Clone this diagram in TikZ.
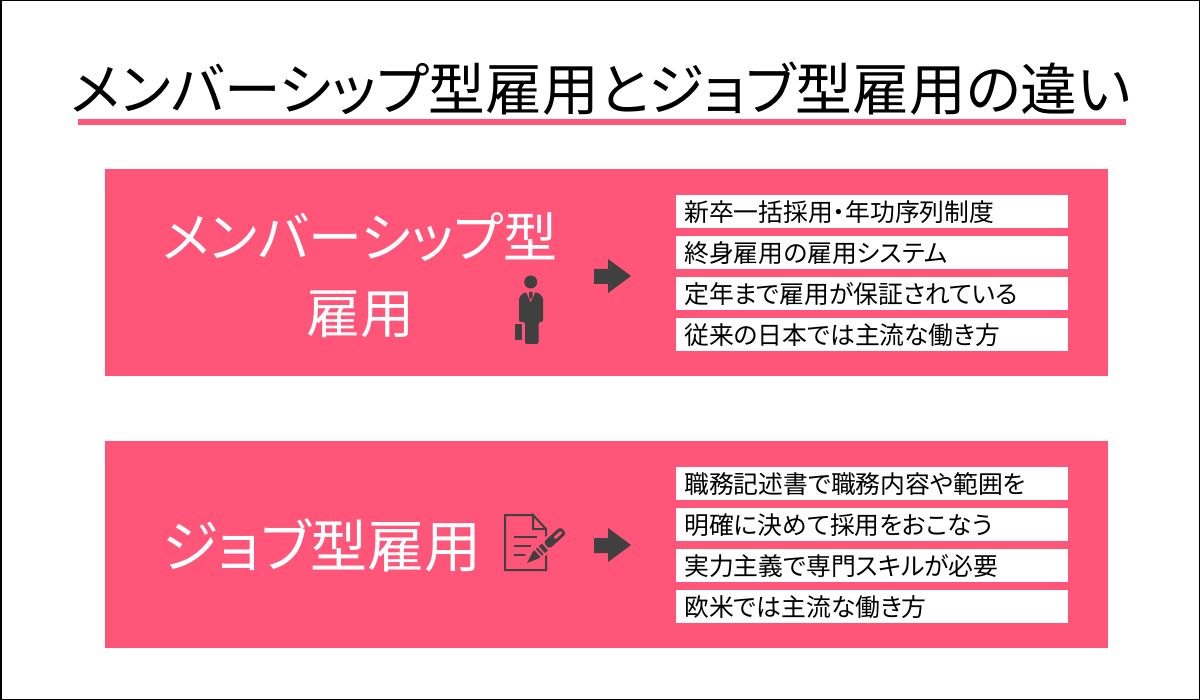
\documentclass[tikz,border=0pt]{standalone}
\usepackage{fontspec}
\setmainfont[RawFeature=+palt]{Noto Sans CJK JP}
\usetikzlibrary{positioning}
\definecolor{rosepink}{HTML}{FF5578}
\definecolor{icongray}{HTML}{404040}
\tikzstyle{band} = [fill=rosepink,draw=none,anchor=north west,minimum width=1003pt,minimum height=207pt,inner sep=0pt]
\tikzstyle{rowbox} = [fill=white,anchor=north west,minimum height=33pt,text width=376pt,inner xsep=8pt,inner ysep=0pt,align=left,font=\fontsize{24.8}{24.8}\selectfont]
\tikzstyle{heading} = [text=white,inner sep=0pt,font=\fontsize{54}{54}\selectfont]
\tikzstyle{arrowblock} = [fill=icongray]

\begin{document}
\begin{tikzpicture}[x=1pt,y=-1pt]
\useasboundingbox (0,0) rectangle (1200,700);
\fill[white] (0,0) rectangle (1200,700);
\draw[line width=1.5pt] (0.75,0.75) rectangle (1199.25,699.25);

\node[inner sep=0pt,font=\fontsize{56.7}{56.7}\selectfont] (title) at (601,89) {メンバーシップ型雇用とジョブ型雇用の違い};
\fill[rosepink] (78,119) rectangle (1126,125);

\node[band] (memberband) at (105,169) {};
\node[band] (jobband) at (105,441) {};

\node[heading] (memberhead) at (360,237) {メンバーシップ型};
\node[heading] (memberhead2) at (360,314) {雇用};
\node[heading,font=\fontsize{57}{57}\selectfont] (jobhead) at (322,545) {ジョブ型雇用};

\node[rowbox] (m1) at (676,195) {新卒一括採用・年功序列制度};
\node[rowbox] (m2) at (676,236) {終身雇用の雇用システム};
\node[rowbox] (m3) at (676,277) {定年まで雇用が保証されている};
\node[rowbox] (m4) at (676,318) {従来の日本では主流な働き方};

\node[rowbox] (j1) at (676,467) {職務記述書で職務内容や範囲を};
\node[rowbox] (j2) at (676,508) {明確に決めて採用をおこなう};
\node[rowbox] (j3) at (676,549) {実力主義で専門スキルが必要};
\node[rowbox] (j4) at (676,590) {欧米では主流な働き方};

\fill[arrowblock] (594,269) -- (608,269) -- (608,259) -- (631,276) -- (608,293) -- (608,284) -- (594,284) -- cycle;
\fill[arrowblock] (594,538) -- (608,538) -- (608,528) -- (631,545) -- (608,562) -- (608,553) -- (594,553) -- cycle;

% person
\fill[icongray] (530.7,282) circle (6.5pt);
\fill[icongray,rounded corners=2pt] (519,322) -- (519,297) -- (525,292) -- (537,292) -- (543,297) -- (543,322) -- (538.5,322) -- (538.5,344) -- (525,344) -- (525,322) -- cycle;
\fill[rosepink] (525.5,291) -- (530.7,302) -- (536,291) -- cycle;
\fill[icongray] (529,292) -- (532.5,292) -- (532.5,296) -- (531.5,299) -- (530,299) -- (529,296) -- cycle;
\fill[icongray] (515,324) rectangle (521.5,340);

% document with pen
\draw[icongray,line width=2pt] (533,515) -- (505,515) -- (505,570) -- (546,570) -- (546,529) -- (533,515) -- (533,529) -- (546,529);
\draw[icongray,line width=1.6pt] (514,537) -- (537,537) (514,546) -- (531,546) (514,555) -- (527,555);
\begin{scope}[shift={(527,563)},rotate=42]
\fill[rosepink] (3,-7) rectangle (50,7);
\fill[icongray] (0,0) -- (12,-4.5) -- (14,-4.5) -- (14,4.5) -- (12,4.5) -- cycle;
\fill[icongray] (16,-4.5) rectangle (18,4.5);
\fill[icongray] (20,-4.5) rectangle (24,4.5);
\fill[icongray,rounded corners=3pt] (26,-4.5) -- (49,-4.5) -- (49,4.5) -- (26,4.5) -- cycle;
\fill[rosepink,rounded corners=1pt] (37,-1.5) -- (46.5,-1.5) -- (46.5,1.5) -- (37,1.5) -- cycle;
\end{scope}
\end{tikzpicture}
\end{document}
